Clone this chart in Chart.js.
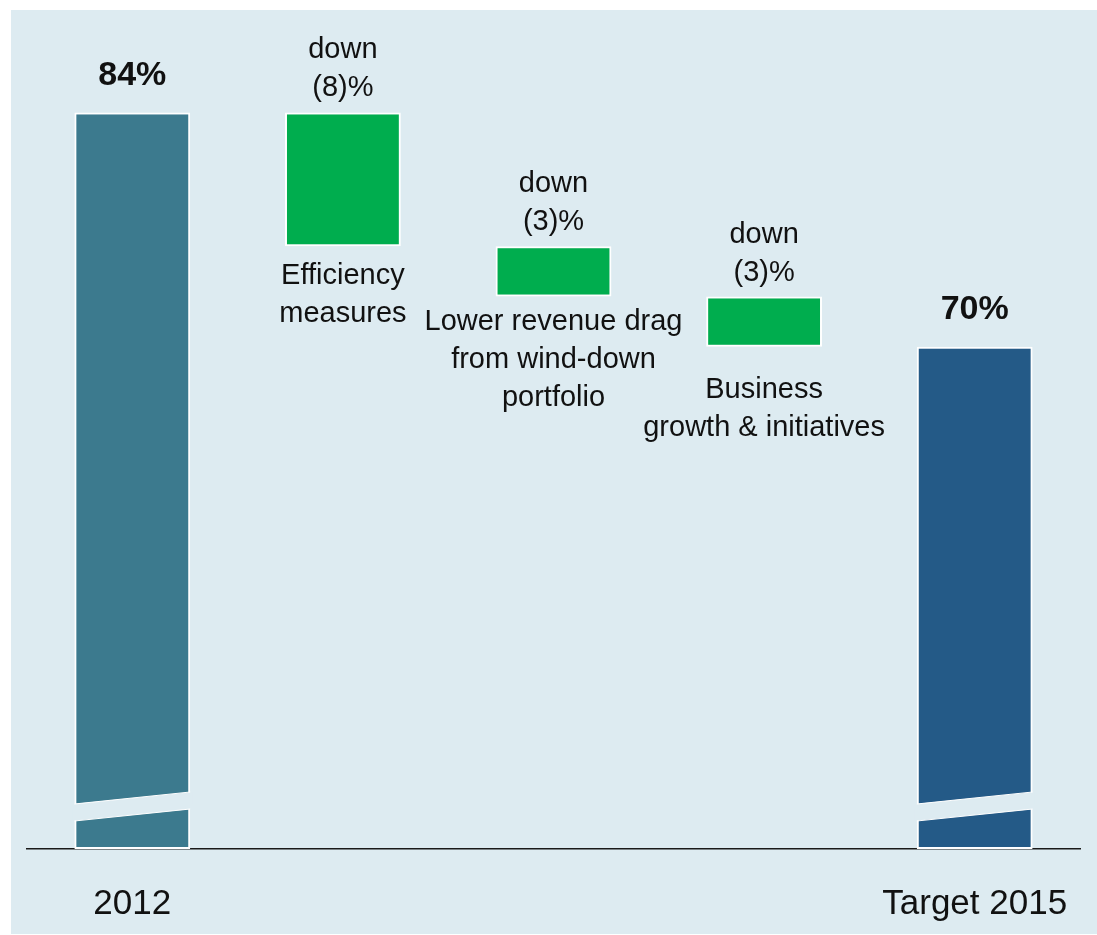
<!DOCTYPE html>
<html>
<head>
<meta charset="utf-8">
<script src="https://cdn.jsdelivr.net/npm/chart.js@4/dist/chart.umd.min.js"></script>
<style>
  html, body { margin: 0; padding: 0; background: #ffffff; }
  #wrap { position: relative; width: 1097px; height: 935px; }
</style>
</head>
<body>
<div id="wrap"><canvas id="c" width="1097" height="935"></canvas></div>
<script>
// ---- data ----
const categories = ["2012", "Efficiency", "Lower revenue", "Business growth", "Target 2015"];
const tickLabels = ["2012", "", "", "", "Target 2015"];
const startValue = 84;          // 2012 cost:income ratio (%)
const changes = [-8, -3, -3];   // contributions (percentage points)
const endValue = 70;            // Target 2015 (%)
const axisFloor = 40;           // broken axis starts here
const topLabels = [["84%"], ["down", "(8)%"], ["down", "(3)%"], ["down", "(3)%"], ["70%"]];
const bottomLabels = [[], ["Efficiency", "measures"], ["Lower revenue drag", "from wind-down", "portfolio"], ["Business", "growth & initiatives"], []];

// floating bar ranges built from the values above
const ranges = [];
ranges.push([axisFloor, startValue]);
let running = startValue;
changes.forEach(c => { ranges.push([running + c, running]); running += c; });
ranges.push([axisFloor, endValue]);

const colors = ["#3c7a8e", "#00ad4e", "#00ad4e", "#00ad4e", "#245a87"];
const BG = "#ddebf1";
const FONT = "'Liberation Sans', Arial, Helvetica, sans-serif";

const panelPlugin = {
  id: 'panel',
  beforeDraw(chart) {
    const ctx = chart.ctx;
    ctx.save();
    ctx.fillStyle = BG;
    ctx.fillRect(11, 10, chart.width - 11, 924);
    ctx.restore();
  }
};

const labelsPlugin = {
  id: 'labelsPlugin',
  afterDatasetsDraw(chart) {
    const ctx = chart.ctx;
    const meta = chart.getDatasetMeta(0);
    const belowOffsets = [0, 30, 25, 43, 0];
    ctx.save();
    ctx.textAlign = 'center';
    ctx.textBaseline = 'middle';
    meta.data.forEach((bar, i) => {
      const top = Math.min(bar.y, bar.base);
      const bottom = Math.max(bar.y, bar.base);
      const lines = topLabels[i];
      ctx.fillStyle = '#111111';
      if (i === 0 || i === 4) {
        ctx.font = "bold 34px " + FONT;
        ctx.fillText(lines[0], bar.x, top - 37);
      } else {
        ctx.font = "29px " + FONT;
        ctx.fillText(lines[0], bar.x, top - 62);
        ctx.fillText(lines[1], bar.x, top - 24);
        const bl = bottomLabels[i];
        bl.forEach((t, k) => ctx.fillText(t, bar.x, bottom + belowOffsets[i] + k * 38));
      }
    });
    // axis break marks on the two full bars
    [0, 4].forEach(i => {
      const bar = meta.data[i];
      const half = bar.width / 2;
      const l = bar.x - half - 2, r = bar.x + half + 2;
      const yl = bar.base - 45, yr = bar.base - 57, gap = 17;
      ctx.beginPath();
      ctx.moveTo(l, yl); ctx.lineTo(r, yr); ctx.lineTo(r, yr + gap); ctx.lineTo(l, yl + gap); ctx.closePath();
      ctx.fillStyle = BG;
      ctx.fill();
      ctx.strokeStyle = '#ffffff';
      ctx.lineWidth = 1;
      ctx.beginPath();
      ctx.moveTo(l + 2, yl); ctx.lineTo(r - 2, yr);
      ctx.moveTo(l + 2, yl + gap); ctx.lineTo(r - 2, yr + gap);
      ctx.stroke();
    });
    ctx.restore();
  }
};

new Chart(document.getElementById('c'), {
  type: 'bar',
  data: {
    labels: tickLabels,
    datasets: [{
      data: ranges,
      backgroundColor: colors,
      borderColor: '#ffffff',
      borderWidth: 2,
      borderSkipped: false,
      barPercentage: 0.55,
      categoryPercentage: 1.0
    }]
  },
  options: {
    responsive: false,
    animation: false,
    devicePixelRatio: 1,
    layout: { padding: { left: 27, right: 17, top: 12, bottom: 0 } },
    plugins: { legend: { display: false }, tooltip: { enabled: false } },
    scales: {
      x: {
        z: 1,
        afterFit(scale) { scale.height = 86; scale.paddingLeft = 0; scale.paddingRight = 0; },
        grid: { display: false, drawTicks: false },
        border: { display: true, color: '#1a1a1a', width: 1.5 },
        ticks: { color: '#111111', font: { family: FONT, size: 35 }, padding: 34, maxRotation: 0, autoSkip: false }
      },
      y: {
        display: false,
        min: axisFloor,
        max: 90
      }
    }
  },
  plugins: [panelPlugin, labelsPlugin]
});
</script>
</body>
</html>
